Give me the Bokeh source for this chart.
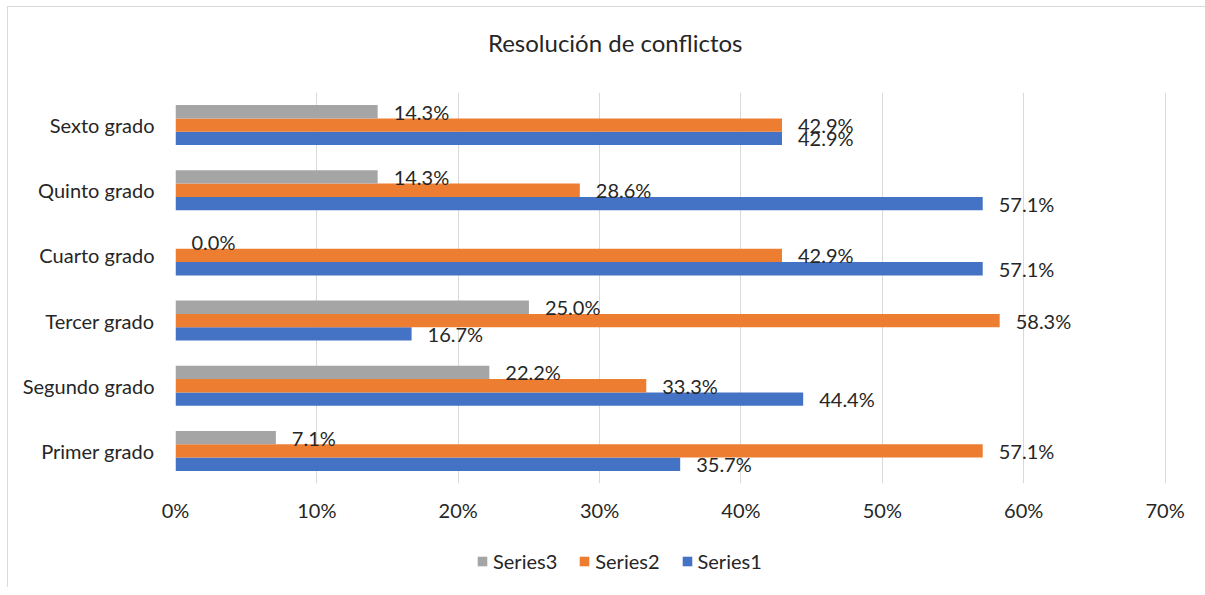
from bokeh.plotting import figure
from bokeh.layouts import column
from bokeh.models import (ColumnDataSource, Range1d, FactorRange, FixedTicker, PrintfTickFormatter,
                          Legend, LegendItem)
from bokeh.transform import dodge
from bokeh.core.properties import value
from bokeh.embed import file_html
from bokeh.resources import INLINE

categories = ["Primer grado", "Segundo grado", "Tercer grado", "Cuarto grado", "Quinto grado", "Sexto grado"]
series1 = [35.7, 44.4, 16.7, 57.1, 57.1, 42.9]
series2 = [57.1, 33.3, 58.3, 42.9, 28.6, 42.9]
series3 = [7.1, 22.2, 25.0, 0.0, 14.3, 14.3]
series_names = ["Series1", "Series2", "Series3"]
legend_order = ["Series3", "Series2", "Series1"]
x_ticks = [0, 10, 20, 30, 40, 50, 60, 70]
title_text = "Resolución de conflictos"

colors = {"Series1": "#4472C4", "Series2": "#ED7D31", "Series3": "#A5A5A5"}
offsets = {"Series1": -0.205, "Series2": 0.0, "Series3": 0.205}
FONT = "Lato"
TXT = "#262626"


def strip(height):
    f = figure(width=1197, height=height, x_range=Range1d(0, 1), y_range=Range1d(0, 1),
               output_backend="svg", toolbar_location=None, min_border=0)
    f.axis.visible = False
    f.grid.grid_line_color = None
    f.outline_line_color = None
    f.background_fill_color = "white"
    f.border_fill_color = "white"
    return f


# title strip
tf = strip(85)
tf.text(x=[0.4437], y=[0.585], text=[title_text], text_align="center", text_baseline="middle",
        text_font=value(FONT), text_font_size="24px", text_color=TXT)

# main chart
p = figure(width=1197, height=445, y_range=FactorRange(*categories), x_range=Range1d(0, 70.1),
           output_backend="svg", toolbar_location=None,
           min_border_left=167, min_border_right=39, min_border_top=0, min_border_bottom=54)
p.outline_line_color = None
p.background_fill_color = "white"
p.border_fill_color = "white"

p.ygrid.grid_line_color = None
p.xgrid.grid_line_color = "#d9d9d9"
p.xgrid.grid_line_width = 1
p.xaxis.ticker = FixedTicker(ticks=x_ticks)
p.xaxis.formatter = PrintfTickFormatter(format="%d%%")
for ax in (p.xaxis[0], p.yaxis[0]):
    ax.axis_line_color = None
    ax.major_tick_line_color = None
    ax.minor_tick_line_color = None
    ax.major_label_text_font = FONT
    ax.major_label_text_font_size = "20px"
    ax.major_label_text_color = TXT
p.xaxis.major_label_standoff = 8
p.yaxis.major_label_standoff = 15

data = {"Series1": series1, "Series2": series2, "Series3": series3}
for name in series_names:
    vals = data[name]
    src = ColumnDataSource(dict(cat=categories, val=vals, lab=["%.1f%%" % v for v in vals]))
    p.hbar(y=dodge("cat", offsets[name], range=p.y_range), right="val", left=0, height=0.205,
           source=src, fill_color=colors[name], line_color=None)
    p.text(x="val", y=dodge("cat", offsets[name], range=p.y_range), text="lab", source=src,
           x_offset=16, text_baseline="middle", text_align="left",
           text_font=value(FONT), text_font_size="20px", text_color=TXT)

# legend strip below the chart
lf = strip(50)
items = []
for name in legend_order:
    r = lf.hbar(y=[-5], right=[0.5], height=0.1, fill_color=colors[name], line_color=None)
    items.append(LegendItem(label=name, renderers=[r]))
legend = Legend(items=items, orientation="horizontal", location=(301, 14),
                glyph_width=12, glyph_height=12, label_standoff=5, spacing=21,
                label_text_font=FONT, label_text_font_size="20px", label_text_color=TXT,
                border_line_color=None, background_fill_alpha=0, padding=0, margin=0)
lf.add_layout(legend, "center")

layout = column(tf, p, lf, spacing=0, margin=(6, 0, 0, 7),
                styles={"border-left": "1px solid #d9d9d9", "border-top": "1px solid #d9d9d9"})

open("out.html", "w").write(file_html(layout, INLINE))
